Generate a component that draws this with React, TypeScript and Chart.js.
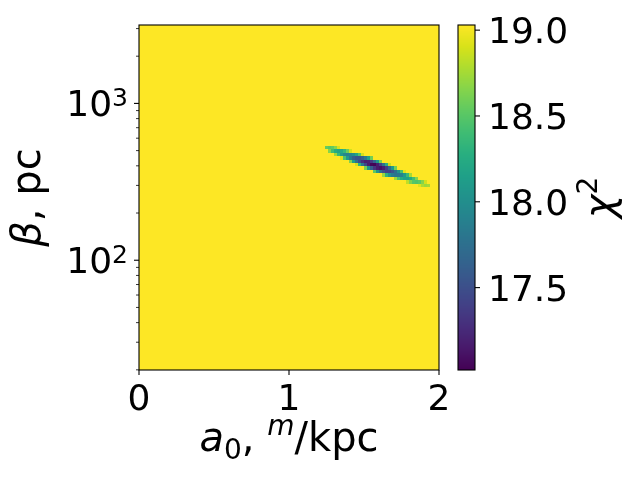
import React, { useEffect, useRef } from "react";
import { Chart, registerables } from "chart.js";

Chart.register(...registerables);

// ---- grid of the chi^2 map ----
const A0_MIN = 0;
const A0_MAX = 2;
const LOG_BETA_MIN = 1.3;
const LOG_BETA_MAX = 3.5;
const NX = 100;
const NY = 100;

// colour range of the map / colour bar
const CHI2_MIN = 17.02;
const CHI2_MAX = 19.03;
const BACKGROUND_CHI2 = 19.03; // clipped value over most of the map

// ---- the valley of low chi^2 (one entry per a0 column) ----
const bandA0 = [
  1.25, 1.27, 1.29, 1.31, 1.33, 1.35, 1.37, 1.39, 1.41, 1.43, 1.45, 1.47, 1.49, 1.51, 1.53, 1.55, 1.57, 1.59,
  1.61, 1.63, 1.65, 1.67, 1.69, 1.71, 1.73, 1.75, 1.77, 1.79, 1.81, 1.83, 1.85, 1.87, 1.89, 1.91, 1.93,
];
// beta (pc) of the top cell of the valley in each column
const bandTopBeta = [
  524, 524, 524, 524, 524, 498, 498, 498, 498, 473, 473, 473, 473, 450, 450, 450, 428, 428,
  428, 406, 406, 406, 386, 386, 367, 367, 367, 349, 349, 332, 332, 315, 315, 315, 300,
];
// chi^2 of the cells going downward from the top cell
const bandChi2 = [
  [18.55],
  [18.5, 18.66],
  [18.54, 18.41],
  [18.67, 18.25, 18.73],
  [18.91, 18.19, 18.37],
  [18.22, 18.11, 18.91],
  [18.35, 17.95, 18.46],
  [18.58, 17.88, 18.09],
  [18.89, 17.91, 17.83, 18.64],
  [18.0, 17.62, 18.14],
  [18.19, 17.53, 17.76, 18.89],
  [18.48, 17.52, 17.47, 18.31],
  [18.88, 17.63, 17.28, 17.82],
  [17.83, 17.19, 17.45, 18.61],
  [18.15, 17.21, 17.18, 18.04],
  [18.59, 17.36, 17.04, 17.61],
  [17.65, 17.03, 17.32, 18.51],
  [18.08, 17.17, 17.16, 18.05],
  [18.61, 17.41, 17.11, 17.72],
  [17.78, 17.19, 17.51, 18.72],
  [18.27, 17.38, 17.4, 18.32],
  [18.86, 17.69, 17.42, 18.05],
  [18.09, 17.53, 17.86],
  [18.6, 17.74, 17.79, 18.73],
  [18.05, 17.8, 18.45],
  [18.44, 17.9, 18.26],
  [18.93, 18.1, 18.17],
  [18.38, 18.16, 18.83],
  [18.76, 18.24, 18.63],
  [18.41, 18.5],
  [18.66, 18.47],
  [18.52, 18.93],
  [18.66, 18.78],
  [18.89, 18.72],
  [18.75],
];

// ---- ticks ----
const xTicks = [0, 1, 2];
const xTickLabels = ["0", "1", "2"];
const yMajorTicks = [100, 1000];
const yMajorExp = ["2", "3"];
const yMinorTicks = [20, 30, 40, 50, 60, 70, 80, 90, 200, 300, 400, 500, 600, 700, 800, 900, 2000, 3000];
const cbTicks = [17.5, 18.0, 18.5, 19.0];
const cbTickLabels = ["17.5", "18.0", "18.5", "19.0"];

// ---- viridis colour map ----
const VIRIDIS: number[][] = [
  [68, 1, 84], [72, 24, 106], [71, 45, 123], [66, 64, 134], [59, 82, 139], [51, 99, 141],
  [44, 114, 142], [38, 130, 142], [33, 145, 140], [31, 160, 136], [40, 174, 128], [63, 188, 115],
  [94, 201, 98], [132, 212, 75], [173, 220, 48], [216, 226, 25], [253, 231, 37],
];
function viridis(t: number): string {
  const tt = Math.max(0, Math.min(1, t)) * (VIRIDIS.length - 1);
  const i = Math.min(VIRIDIS.length - 2, Math.floor(tt));
  const f = tt - i;
  const a = VIRIDIS[i];
  const b = VIRIDIS[i + 1];
  const c = [0, 1, 2].map((k) => Math.round(a[k] + (b[k] - a[k]) * f));
  return `rgb(${c[0]},${c[1]},${c[2]})`;
}
function chi2Color(v: number): string {
  return viridis((v - CHI2_MIN) / (CHI2_MAX - CHI2_MIN));
}

// ---- build map cells from the arrays above ----
type Cell = { x0: number; x1: number; y0: number; y1: number; v: number };
function buildCells(): Cell[] {
  const dx = (A0_MAX - A0_MIN) / NX;
  const dl = (LOG_BETA_MAX - LOG_BETA_MIN) / NY;
  const grid: number[][] = [];
  for (let j = 0; j < NY; j++) grid.push(new Array(NX).fill(BACKGROUND_CHI2));
  bandA0.forEach((a0, k) => {
    const i = Math.floor((a0 - A0_MIN) / dx);
    const j0 = Math.round((Math.log10(bandTopBeta[k]) - LOG_BETA_MIN) / dl - 0.5);
    bandChi2[k].forEach((v, m) => {
      const j = j0 - m;
      if (j >= 0 && j < NY && i >= 0 && i < NX) grid[j][i] = v;
    });
  });
  const cells: Cell[] = [];
  for (let j = 0; j < NY; j++) {
    for (let i = 0; i < NX; i++) {
      cells.push({
        x0: A0_MIN + i * dx,
        x1: A0_MIN + (i + 1) * dx,
        y0: Math.pow(10, LOG_BETA_MIN + j * dl),
        y1: Math.pow(10, LOG_BETA_MIN + (j + 1) * dl),
        v: grid[j][i],
      });
    }
  }
  return cells;
}

// ---- text helper (mixed fonts, sub/superscripts) ----
type Piece = { text: string; font: string; dy?: number };
const FAMILY = "'DejaVu Sans', sans-serif";
function drawPieces(ctx: CanvasRenderingContext2D, pieces: Piece[], x: number, y: number, align: "left" | "center" | "right") {
  let total = 0;
  const widths = pieces.map((p) => {
    ctx.font = p.font;
    const w = ctx.measureText(p.text).width;
    total += w;
    return w;
  });
  let cx = align === "left" ? x : align === "center" ? x - total / 2 : x - total;
  ctx.textAlign = "left";
  ctx.textBaseline = "alphabetic";
  pieces.forEach((p, k) => {
    ctx.font = p.font;
    ctx.fillText(p.text, cx, y + (p.dy || 0));
    cx += widths[k];
  });
}

// colour bar geometry (pixels)
const CB_LEFT = 458;
const CB_RIGHT = 475;
const TICK_FONT = `36px ${FAMILY}`;
const TITLE_PX = 40;

const heatmapPlugin = {
  id: "heatmap",
  beforeDatasetsDraw(chart: any) {
    const { ctx, scales } = chart;
    const xs = scales.x;
    const ys = scales.y;
    const cells: Cell[] = chart.data.datasets[0].data;
    ctx.save();
    for (const c of cells) {
      const px0 = Math.round(xs.getPixelForValue(c.x0));
      const px1 = Math.round(xs.getPixelForValue(c.x1));
      const py0 = Math.round(ys.getPixelForValue(c.y0));
      const py1 = Math.round(ys.getPixelForValue(c.y1));
      ctx.fillStyle = chi2Color(c.v);
      ctx.fillRect(px0, py1, px1 - px0, py0 - py1);
    }
    ctx.restore();
  },
};

const axesPlugin = {
  id: "axesDecor",
  afterDraw(chart: any) {
    const { ctx, chartArea, scales } = chart;
    const { left, right, top, bottom } = chartArea;
    const xs = scales.x;
    const ys = scales.y;
    const cb = scales.cb;
    ctx.save();
    ctx.fillStyle = "#000";
    ctx.strokeStyle = "#000";

    // spines
    ctx.lineWidth = 1.1;
    ctx.strokeRect(left, top, right - left, bottom - top);

    // x ticks + labels
    xTicks.forEach((v, k) => {
      const px = xs.getPixelForValue(v);
      ctx.lineWidth = 1.1;
      ctx.beginPath();
      ctx.moveTo(px, bottom);
      ctx.lineTo(px, bottom + 5);
      ctx.stroke();
      drawPieces(ctx, [{ text: xTickLabels[k], font: TICK_FONT }], px, 410, "center");
    });

    // y ticks
    yMajorTicks.forEach((v, k) => {
      const py = ys.getPixelForValue(v);
      ctx.lineWidth = 1.1;
      ctx.beginPath();
      ctx.moveTo(left, py);
      ctx.lineTo(left - 5, py);
      ctx.stroke();
      drawPieces(
        ctx,
        [
          { text: "10", font: TICK_FONT },
          { text: yMajorExp[k], font: `25px ${FAMILY}`, dy: -10 },
        ],
        128,
        py + 13,
        "right"
      );
    });
    ctx.lineWidth = 0.8;
    yMinorTicks.forEach((v) => {
      const py = ys.getPixelForValue(v);
      ctx.beginPath();
      ctx.moveTo(left, py);
      ctx.lineTo(left - 3, py);
      ctx.stroke();
    });

    // axis titles
    const sub = Math.round(TITLE_PX * 0.7);
    drawPieces(
      ctx,
      [
        { text: "a", font: `italic ${TITLE_PX}px ${FAMILY}` },
        { text: "0", font: `${sub}px ${FAMILY}`, dy: 8 },
        { text: ", ", font: `${TITLE_PX}px ${FAMILY}` },
        { text: "m", font: `italic ${sub}px ${FAMILY}`, dy: -16 },
        { text: "/kpc", font: `${TITLE_PX}px ${FAMILY}` },
      ],
      (left + right) / 2,
      451,
      "center"
    );
    ctx.save();
    ctx.translate(40, (top + bottom) / 2);
    ctx.rotate(-Math.PI / 2);
    drawPieces(
      ctx,
      [
        { text: "β", font: `italic ${TITLE_PX}px ${FAMILY}` },
        { text: ", pc", font: `${TITLE_PX}px ${FAMILY}` },
      ],
      0,
      0,
      "center"
    );
    ctx.restore();

    // colour bar
    const cTop = cb.getPixelForValue(CHI2_MAX);
    const cBot = cb.getPixelForValue(CHI2_MIN);
    for (let py = Math.floor(cTop); py < Math.ceil(cBot); py++) {
      const v = cb.getValueForPixel(py + 0.5);
      ctx.fillStyle = chi2Color(v);
      ctx.fillRect(CB_LEFT, py, CB_RIGHT - CB_LEFT, 1);
    }
    ctx.fillStyle = "#000";
    ctx.lineWidth = 1.1;
    ctx.strokeRect(CB_LEFT, cTop, CB_RIGHT - CB_LEFT, cBot - cTop);
    cbTicks.forEach((v, k) => {
      const py = cb.getPixelForValue(v);
      ctx.beginPath();
      ctx.moveTo(CB_RIGHT, py);
      ctx.lineTo(CB_RIGHT + 5, py);
      ctx.stroke();
      drawPieces(ctx, [{ text: cbTickLabels[k], font: TICK_FONT }], 488, py + 13, "left");
    });
    ctx.save();
    ctx.translate(613, (top + bottom) / 2);
    ctx.rotate(-Math.PI / 2);
    drawPieces(
      ctx,
      [
        { text: "χ", font: `italic ${TITLE_PX}px ${FAMILY}` },
        { text: "2", font: `${sub}px ${FAMILY}`, dy: -16 },
      ],
      0,
      0,
      "center"
    );
    ctx.restore();

    ctx.restore();
  },
};

export default function App() {
  const canvasRef = useRef<HTMLCanvasElement | null>(null);

  useEffect(() => {
    const canvas = canvasRef.current;
    if (!canvas) return;
    const cells = buildCells();
    const chart = new Chart(canvas, {
      type: "scatter",
      data: {
        datasets: [
          {
            label: "chi2",
            data: cells as any,
            pointRadius: 0,
            pointHoverRadius: 0,
            parsing: false as any,
          } as any,
        ],
      },
      options: {
        animation: false,
        responsive: false,
        devicePixelRatio: 1,
        events: [],
        layout: { padding: { left: 139, right: 201, top: 25, bottom: 110 } },
        plugins: { legend: { display: false }, tooltip: { enabled: false } },
        scales: {
          x: { type: "linear", min: A0_MIN, max: A0_MAX, display: false },
          y: {
            type: "logarithmic",
            min: Math.pow(10, LOG_BETA_MIN),
            max: Math.pow(10, LOG_BETA_MAX),
            display: false,
          },
          cb: { type: "linear", axis: "y", min: CHI2_MIN, max: CHI2_MAX, display: false },
        } as any,
      },
      plugins: [heatmapPlugin, axesPlugin],
    });
    return () => chart.destroy();
  }, []);

  return (
    <div style={{ position: "fixed", left: 0, top: 0, width: 640, height: 480, background: "#fff" }}>
      <canvas ref={canvasRef} width={640} height={480} style={{ width: 640, height: 480, display: "block" }} />
    </div>
  );
}
